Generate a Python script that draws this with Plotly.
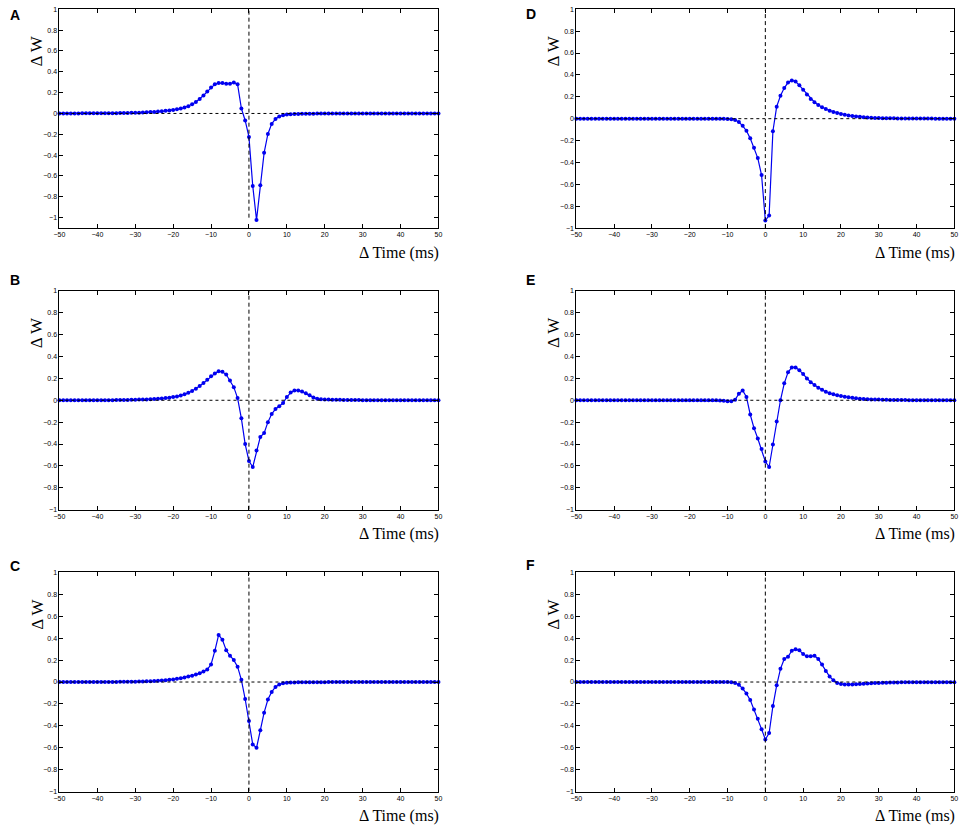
import plotly.graph_objects as go

W, H = 964, 828

delta_t = list(range(-50, 51))

dw_a = [0.000, 0.000, 0.000, 0.000, 0.000, 0.000, 0.001, 0.001, 0.001, 0.001,
        0.001, 0.002, 0.002, 0.002, 0.003, 0.003, 0.004, 0.004, 0.005, 0.006,
        0.007, 0.008, 0.009, 0.011, 0.013, 0.015, 0.018, 0.021, 0.025, 0.029,
        0.034, 0.040, 0.047, 0.057, 0.070, 0.088, 0.110, 0.140, 0.172, 0.210,
        0.250, 0.280, 0.292, 0.292, 0.285, 0.285, 0.298, 0.280, 0.048, -0.067,
        -0.225, -0.695, -1.022, -0.690, -0.378, -0.197, -0.100, -0.052, -0.028, -0.016,
        -0.010, -0.007, -0.005, -0.004, -0.003, -0.002, -0.002, -0.002, -0.001, -0.001,
        -0.001, -0.001, -0.001, -0.001, -0.001, -0.001, -0.001, -0.001, -0.001, -0.001,
        0.000, 0.000, 0.000, 0.000, 0.000, 0.000, 0.000, 0.000, 0.000, 0.000,
        0.000, 0.000, 0.000, 0.000, 0.000, 0.000, 0.000, 0.000, 0.000, 0.000,
        0.000]

dw_b = [0.000, 0.000, 0.000, 0.000, 0.000, 0.000, 0.000, 0.000, 0.000, 0.000,
        0.001, 0.001, 0.001, 0.001, 0.001, 0.002, 0.002, 0.003, 0.003, 0.004,
        0.005, 0.006, 0.007, 0.008, 0.010, 0.012, 0.014, 0.017, 0.020, 0.024,
        0.029, 0.035, 0.044, 0.055, 0.068, 0.085, 0.105, 0.130, 0.157, 0.187,
        0.220, 0.245, 0.265, 0.260, 0.235, 0.180, 0.120, 0.020, -0.165, -0.400,
        -0.555, -0.610, -0.460, -0.335, -0.300, -0.200, -0.125, -0.080, -0.055, -0.025,
        0.030, 0.070, 0.090, 0.090, 0.080, 0.065, 0.045, 0.025, 0.013, 0.009,
        0.007, 0.006, 0.005, 0.004, 0.004, 0.003, 0.003, 0.002, 0.002, 0.002,
        0.001, 0.001, 0.001, 0.001, 0.001, 0.001, 0.001, 0.001, 0.001, 0.001,
        0.000, 0.000, 0.000, 0.000, 0.000, 0.000, 0.000, 0.000, 0.000, 0.000,
        0.000]

dw_c = [0.000, 0.000, 0.000, 0.000, 0.000, 0.000, 0.000, 0.000, 0.000, 0.000,
        0.001, 0.001, 0.001, 0.001, 0.001, 0.001, 0.002, 0.002, 0.002, 0.003,
        0.003, 0.004, 0.005, 0.006, 0.007, 0.009, 0.011, 0.013, 0.016, 0.020,
        0.024, 0.029, 0.035, 0.042, 0.050, 0.058, 0.068, 0.080, 0.095, 0.115,
        0.160, 0.285, 0.430, 0.385, 0.290, 0.240, 0.200, 0.140, 0.020, -0.155,
        -0.355, -0.570, -0.600, -0.440, -0.280, -0.160, -0.090, -0.045, -0.022, -0.012,
        -0.007, -0.005, -0.004, -0.003, -0.002, -0.002, -0.001, -0.001, -0.001, -0.001,
        -0.001, 0.000, 0.000, 0.000, 0.000, 0.000, 0.000, 0.000, 0.000, 0.000,
        0.000, 0.000, 0.000, 0.000, 0.000, 0.000, 0.000, 0.000, 0.000, 0.000,
        0.000, 0.000, 0.000, 0.000, 0.000, 0.000, 0.000, 0.000, 0.000, 0.000,
        0.000]

dw_d = [0.000, 0.000, 0.000, 0.000, 0.000, 0.000, 0.000, 0.000, 0.000, 0.000,
        0.000, 0.000, 0.000, 0.000, 0.000, 0.000, 0.000, 0.000, 0.000, 0.000,
        0.000, 0.000, 0.000, 0.000, 0.000, 0.000, 0.000, 0.000, 0.000, 0.000,
        0.000, 0.000, 0.000, 0.000, 0.000, 0.000, 0.000, 0.000, 0.000, 0.000,
        -0.002, -0.005, -0.012, -0.030, -0.065, -0.110, -0.180, -0.265, -0.360, -0.515,
        -0.930, -0.885, -0.115, 0.110, 0.210, 0.280, 0.330, 0.350, 0.340, 0.305,
        0.265, 0.220, 0.180, 0.150, 0.125, 0.105, 0.088, 0.073, 0.062, 0.052,
        0.043, 0.036, 0.030, 0.025, 0.020, 0.017, 0.014, 0.011, 0.009, 0.007,
        0.006, 0.005, 0.004, 0.003, 0.003, 0.002, 0.002, 0.002, 0.001, 0.001,
        0.001, 0.001, 0.001, 0.001, 0.001, 0.000, 0.000, 0.000, 0.000, 0.000,
        0.000]

dw_e = [0.000, 0.000, 0.000, 0.000, 0.000, 0.000, 0.000, 0.000, 0.000, 0.000,
        0.000, 0.000, 0.000, 0.000, 0.000, 0.000, 0.000, 0.000, 0.000, 0.000,
        0.000, 0.000, 0.000, 0.000, 0.000, 0.000, 0.000, 0.000, 0.000, 0.000,
        0.000, 0.000, 0.000, 0.000, 0.000, 0.000, 0.000, 0.000, -0.003, -0.005,
        -0.008, -0.010, 0.005, 0.060, 0.090, 0.030, -0.130, -0.255, -0.350, -0.445,
        -0.560, -0.610, -0.405, -0.195, 0.000, 0.155, 0.255, 0.300, 0.300, 0.275,
        0.240, 0.200, 0.165, 0.140, 0.115, 0.095, 0.078, 0.065, 0.055, 0.046,
        0.038, 0.032, 0.027, 0.022, 0.018, 0.015, 0.012, 0.010, 0.008, 0.007,
        0.006, 0.005, 0.004, 0.003, 0.003, 0.002, 0.002, 0.002, 0.001, 0.001,
        0.001, 0.001, 0.001, 0.001, 0.001, 0.000, 0.000, 0.000, 0.000, 0.000,
        0.000]

dw_f = [0.000, 0.000, 0.000, 0.000, 0.000, 0.000, 0.000, 0.000, 0.000, 0.000,
        0.000, 0.000, 0.000, 0.000, 0.000, 0.000, 0.000, 0.000, 0.000, 0.000,
        0.000, 0.000, 0.000, 0.000, 0.000, 0.000, 0.000, 0.000, 0.000, 0.000,
        0.000, 0.000, 0.000, 0.000, 0.000, 0.000, 0.000, 0.000, 0.000, 0.000,
        0.000, -0.002, -0.008, -0.025, -0.060, -0.105, -0.165, -0.250, -0.335, -0.430,
        -0.525, -0.465, -0.220, -0.030, 0.120, 0.210, 0.230, 0.285, 0.300, 0.290,
        0.255, 0.235, 0.235, 0.240, 0.210, 0.160, 0.100, 0.050, 0.015, -0.008,
        -0.018, -0.022, -0.022, -0.022, -0.020, -0.018, -0.015, -0.013, -0.011, -0.009,
        -0.008, -0.007, -0.006, -0.005, -0.004, -0.004, -0.003, -0.003, -0.002, -0.002,
        -0.002, -0.001, -0.001, -0.001, -0.001, -0.001, -0.001, -0.001, -0.001, -0.001,
        -0.001]

panel_labels = ["A", "B", "C", "D", "E", "F"]
panel_series = [dw_a, dw_b, dw_c, dw_d, dw_e, dw_f]
y_ranges = [[-1.1, 1], [-1, 1], [-1, 1], [-1, 1], [-1, 1], [-1, 1]]

x_tick_vals = [-50, -40, -30, -20, -10, 0, 10, 20, 30, 40, 50]
x_tick_text = ["\u221250", "\u221240", "\u221230", "\u221220", "\u221210", "0", "10", "20", "30", "40", "50"]
y_tick_vals = [-1, -0.8, -0.6, -0.4, -0.2, 0, 0.2, 0.4, 0.6, 0.8, 1]
y_tick_text = ["\u22121", "\u22120.8", "\u22120.6", "\u22120.4", "\u22120.2", "0", "0.2", "0.4", "0.6", "0.8", "1"]

zero_x = [0, 0]
zero_x_span = [-1, 1]
zero_y = [0, 0]
zero_y_span = [-50, 50]

y_title = "\u0394 W"
x_title = "\u0394 Time (ms)"

# layout in pixels
col_left = [(54, 437), (576.3, 958.3)]
row_top = [(5.3, 226), (289.3, 510), (573.3, 794.3)]
letter_pos = [(8.7, 11.5), (8.7, 278), (8.7, 566.5), (530, 10), (530, 278.5), (530, 566)]

def px(v):
    return v / W

def py(v):
    return 1 - v / H

fig = go.Figure()
annotations = []
shapes = []

tick_font = dict(family="Liberation Sans, Arial, sans-serif", size=7, color="black")

for i, (lab, ser) in enumerate(zip(panel_labels, panel_series)):
    assert len(ser) == 101
    col = i // 3
    row = i % 3
    n = i + 1
    xa = "x" if n == 1 else f"x{n}"
    ya = "y" if n == 1 else f"y{n}"
    x0, x1 = col_left[col]
    t0, t1 = row_top[row]
    fig.add_trace(go.Scatter(
        x=delta_t, y=ser, mode="lines+markers",
        line=dict(color="#0000f0", width=1.2),
        marker=dict(color="#0000f0", size=4, symbol="circle"),
        xaxis=xa, yaxis=ya, showlegend=False, cliponaxis=False,
    ))
    axis_common = dict(
        showgrid=False, zeroline=False, showline=True, linecolor="black", linewidth=1,
        mirror="ticks", ticks="inside", ticklen=4, tickwidth=1, tickcolor="black",
        tickfont=tick_font,
    )
    fig.layout[f"xaxis{n if n > 1 else ''}"] = dict(
        domain=[px(x0), px(x1)], anchor=ya, range=[-50, 50],
        tickvals=x_tick_vals, ticktext=x_tick_text, **axis_common)
    fig.layout[f"yaxis{n if n > 1 else ''}"] = dict(
        domain=[py(t1), py(t0)], anchor=xa, range=y_ranges[i],
        tickvals=y_tick_vals, ticktext=y_tick_text, **axis_common)

    # dashed reference lines
    shapes.append(dict(type="line", xref=xa, yref=ya, x0=zero_x[0], x1=zero_x[1],
                       y0=zero_x_span[0], y1=zero_x_span[1],
                       line=dict(color="black", width=1, dash="4px,3px")))
    shapes.append(dict(type="line", xref=xa, yref=ya, x0=zero_y_span[0], x1=zero_y_span[1],
                       y0=zero_y[0], y1=zero_y[1],
                       line=dict(color="black", width=1, dash="3px,3px")))

    annotations.append(dict(text=y_title, xref="paper", yref="paper",
                            x=px(x0 - 23), y=py(t0 + 42), textangle=-90,
                            showarrow=False, xanchor="center", yanchor="middle",
                            font=dict(family="Liberation Serif, Times New Roman, serif", size=17, color="black")))
    annotations.append(dict(text=x_title, xref="paper", yref="paper",
                            x=px(x1 + 3), y=py(t1 + 25),
                            showarrow=False, xanchor="right", yanchor="middle",
                            font=dict(family="Liberation Serif, Times New Roman, serif", size=16, color="black")))
    lx, ly = letter_pos[i]
    annotations.append(dict(text=f"<b>{lab}</b>", xref="paper", yref="paper",
                            x=px(lx), y=py(ly), showarrow=False,
                            xanchor="center", yanchor="middle",
                            font=dict(family="Liberation Sans, Arial, sans-serif", size=14, color="black")))

fig.update_layout(
    width=W, height=H, margin=dict(l=0, r=0, t=0, b=0),
    paper_bgcolor="white", plot_bgcolor="white",
    annotations=annotations, shapes=shapes, showlegend=False,
)

fig.write_html("out.html", config={"displayModeBar": False},
               post_script="document.body.style.margin='0';document.body.style.overflow='hidden';")
